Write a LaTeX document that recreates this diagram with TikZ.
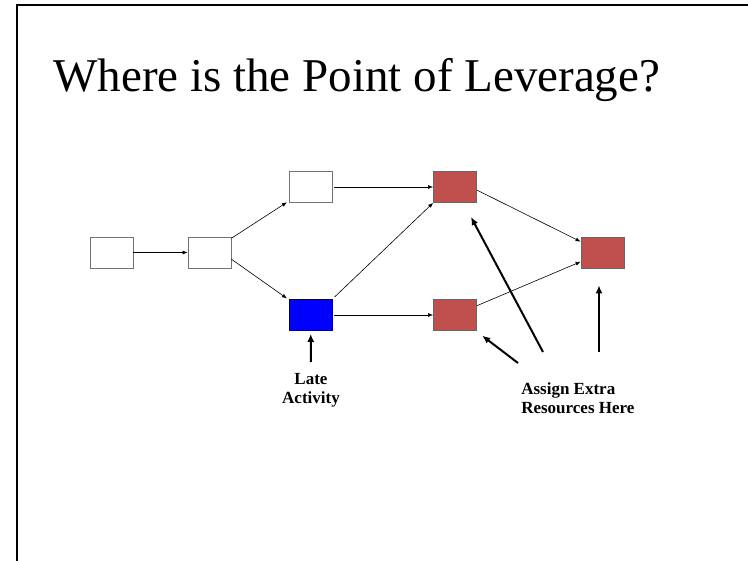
\documentclass[tikz,border=0pt]{standalone}
\usepackage{fontspec}
\setmainfont{Liberation Serif}
\usetikzlibrary{arrows.meta,calc}

\definecolor{critred}{HTML}{C0504D}
\definecolor{lateblue}{HTML}{0000FF}

\begin{document}
\begin{tikzpicture}[->, >={Latex[length=5pt,width=4pt]}, x=1pt, y=-1pt, line width=0.6pt]
\tikzstyle{act}=[draw=black!55, fill=white, minimum width=43pt, minimum height=31pt, inner sep=0pt, line width=0.8pt]
\tikzstyle{late}=[act, fill=lateblue, draw=blue!40!black]
\tikzstyle{crit}=[act, fill=critred, draw=black!60]
\tikzstyle{hint}=[line width=2pt, -{Latex[length=8pt,width=7pt]}]
\tikzstyle{note}=[font=\fontsize{17}{19.5}\selectfont\bfseries, inner sep=0pt]

\useasboundingbox (0,0) rectangle (748,561);
% slide frame
\draw[-, line width=2.5pt, line join=miter] (17,561) -- (17,5) -- (748,5);

\node[anchor=base west, inner sep=0pt, font=\fontsize{47}{56}\selectfont] (title) at (53,92) {Where is the Point of Leverage?};

% network
\node[act]  (A) at (111.5,252.5) {};
\node[act]  (B) at (209.5,252.5) {};
\node[act]  (C) at (310.5,187) {};
\node[late] (D) at (310.5,315) {};
\node[crit] (E) at (455,187) {};
\node[crit] (F) at (455,315) {};
\node[crit] (G) at (602.5,252.5) {};

\path
(A) edge (B)
(B.33) edge[shorten >=2pt] (C)
(B.-17) edge[shorten >=2pt] (D)
(C) edge[shorten <=2pt] (E)
(D.north east) edge[shorten <=3pt] (E.south west)
(D) edge[shorten <=2pt] (F)
(E.-8) edge (G)
(F) edge (G);

% labels
\node[note, align=center, anchor=north] (lateact) at (311,373) {Late\\Activity};
\node[note, align=left, anchor=north west] (assign) at (521,382) {Assign Extra\\Resources Here};

\coordinate (h0) at (311,362);
\coordinate (h1) at (543,352);
\coordinate (h2) at (518,363);
\coordinate (h3) at (599,352);
\draw[hint, shorten >=3pt] (h0) -- (D);
\draw[hint, shorten >=16pt] (h1) -- (E);
\draw[hint, shorten >=8pt] (h2) -- (F);
\draw[hint, shorten >=17pt] (h3) -- (h3 |- G.south);
\end{tikzpicture}
\end{document}
